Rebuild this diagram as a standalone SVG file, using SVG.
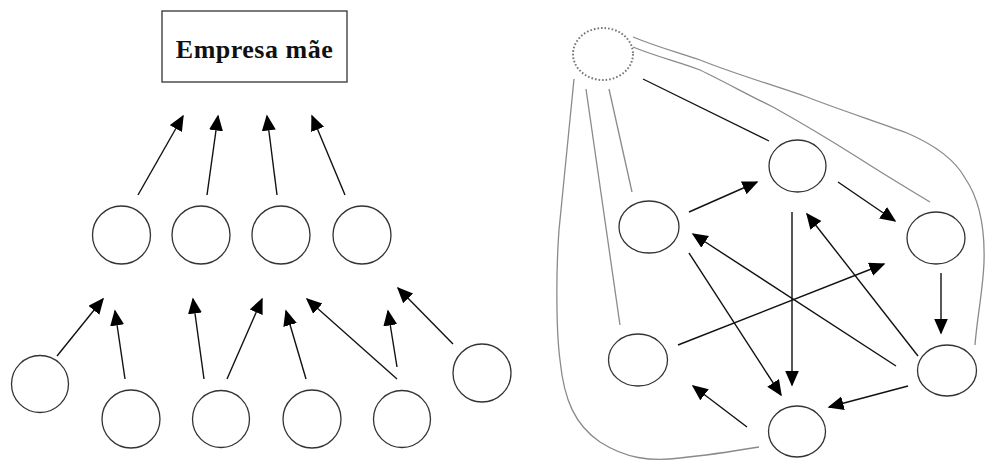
<svg xmlns="http://www.w3.org/2000/svg" width="985" height="462" viewBox="0 0 985 462">
<style>
.n{fill:#fff;stroke:#333;stroke-width:1.3}
.a{stroke:#111;stroke-width:1.4;fill:none;marker-end:url(#ah)}
.k{stroke:#111;stroke-width:1.3;fill:none}
.g{stroke:#8a8a8a;stroke-width:1.3;fill:none}
.t{font-family:"Liberation Serif","Times New Roman",serif;font-weight:bold;font-size:26px;letter-spacing:0.5px;fill:#111}
</style>
<defs>
<marker id="ah" markerUnits="userSpaceOnUse" markerWidth="17" markerHeight="15" refX="14.5" refY="7" orient="auto">
<path d="M0,0 L16,7 L0,14 z" fill="#000"/>
</marker>
</defs>
<rect width="985" height="462" fill="#fff"/>
<g id="connectors">
<line class="a" x1="138" y1="195" x2="183" y2="116"/>
<line class="a" x1="207" y1="195" x2="218" y2="116"/>
<line class="a" x1="277" y1="195" x2="267" y2="116"/>
<line class="a" x1="345" y1="195" x2="312" y2="116"/>
<line class="a" x1="57" y1="356" x2="103" y2="299"/>
<line class="a" x1="125" y1="379" x2="115" y2="311"/>
<line class="a" x1="204" y1="379" x2="193" y2="299"/>
<line class="a" x1="227" y1="379" x2="262" y2="299"/>
<line class="a" x1="306" y1="379" x2="286" y2="311"/>
<line class="a" x1="397" y1="379" x2="307" y2="299"/>
<line class="a" x1="397" y1="367" x2="388" y2="311"/>
<line class="a" x1="453" y1="344" x2="398" y2="288"/>
<line class="a" x1="689" y1="212" x2="757" y2="182"/>
<line class="a" x1="838" y1="182" x2="895" y2="221"/>
<line class="a" x1="941" y1="273" x2="941" y2="333"/>
<line class="a" x1="908" y1="386" x2="829" y2="407"/>
<line class="a" x1="747" y1="427" x2="693" y2="386"/>
<line class="a" x1="678" y1="345" x2="884" y2="264"/>
<line class="a" x1="896" y1="366" x2="693" y2="234"/>
<line class="a" x1="689" y1="253" x2="781" y2="395"/>
<line class="a" x1="792" y1="212" x2="792" y2="385"/>
<line class="a" x1="918" y1="356" x2="807" y2="214"/>
<line class="k" x1="643" y1="79" x2="769" y2="141"/>
<line class="g" x1="609" y1="89" x2="632" y2="192"/>
<line class="g" x1="586" y1="89" x2="620" y2="325"/>
<path class="g" d="M574,79 L559,230 C556,270 556,330 560,360 C564,400 575,425 600,442 C625,458 650,462 680,458 C710,455 735,451 759,447"/>
<path class="g" d="M633,47 C660,58 680,62 700,70 C725,82 750,96 773,107 C800,122 830,140 857,157 C885,175 910,190 930,202"/>
<path class="g" d="M633,37 C660,48 680,53 700,60 C735,74 770,84 807,97 C840,110 875,121 907,133 C935,145 955,160 965,178 C980,200 985,230 984,262 C983,290 977,318 975,345"/>
</g>
<g id="parent">
<rect class="n" x="162" y="11" width="185" height="71" fill="#fff"/>
<text class="t" x="254.5" y="58" text-anchor="middle">Empresa mãe</text>
</g>
<g id="l1a"><circle class="n" cx="121.5" cy="235" r="29"/></g>
<g id="l1b"><circle class="n" cx="201" cy="235" r="29"/></g>
<g id="l1c"><circle class="n" cx="281" cy="235" r="29"/></g>
<g id="l1d"><circle class="n" cx="362" cy="235" r="29"/></g>
<g id="l2a"><circle class="n" cx="40" cy="384" r="28.5"/></g>
<g id="l2b"><circle class="n" cx="131" cy="419" r="29"/></g>
<g id="l2c"><circle class="n" cx="221" cy="419" r="28.5"/></g>
<g id="l2d"><circle class="n" cx="312" cy="419" r="29"/></g>
<g id="l2e"><circle class="n" cx="402" cy="419" r="28.5"/></g>
<g id="l2f"><circle class="n" cx="482" cy="373" r="29"/></g>
<g id="virtual"><ellipse cx="603" cy="54" rx="30" ry="26" fill="none" stroke="#777" stroke-width="2" stroke-dasharray="1.6 2"/></g>
<g id="rtop"><ellipse class="n" cx="797.5" cy="166" rx="28.5" ry="26"/></g>
<g id="rleft"><ellipse class="n" cx="649" cy="227" rx="30" ry="26"/></g>
<g id="rright"><ellipse class="n" cx="936" cy="238" rx="29" ry="26"/></g>
<g id="rlowleft"><ellipse class="n" cx="638" cy="360" rx="29.5" ry="26"/></g>
<g id="rlowright"><ellipse class="n" cx="947" cy="370.5" rx="29.5" ry="25.5"/></g>
<g id="rbottom"><ellipse class="n" cx="797" cy="431.5" rx="28.5" ry="25.5"/></g>
</svg>
